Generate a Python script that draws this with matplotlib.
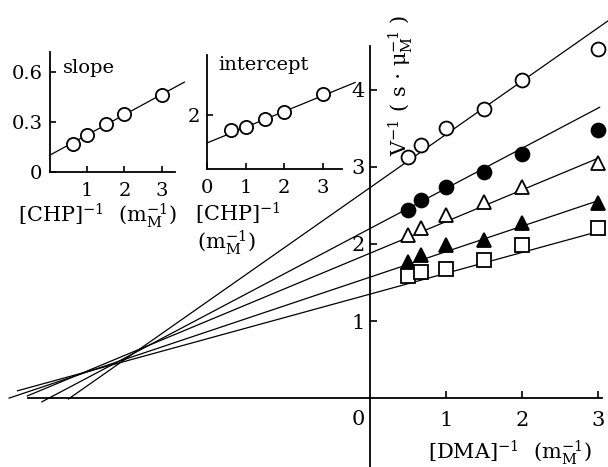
import numpy as np
import matplotlib
matplotlib.use('Agg')
import matplotlib.pyplot as plt

plt.rcParams['font.family'] = ['DejaVu Serif']
plt.rcParams['mathtext.fontset'] = 'dejavuserif'

# Основний графік: [DMA]^-1 проти V^-1 для п'яти концентрацій CHP
dma_inv = [0.5, 0.67, 1.0, 1.5, 2.0, 3.0]
v_open_circle = [3.12, 3.28, 3.50, 3.75, 4.12, 4.53]
v_filled_circle = [2.44, 2.57, 2.74, 2.93, 3.17, 3.48]
v_open_tri = [2.12, 2.20, 2.37, 2.54, 2.74, 3.05]
v_filled_tri = [1.77, 1.86, 1.99, 2.05, 2.27, 2.53]
v_square = [1.59, 1.63, 1.68, 1.79, 1.99, 2.20]

# Прямі (нахил, перетин, межі по x)
line_slope = [0.69, 0.52, 0.41, 0.33, 0.27]
line_icpt = [2.73, 2.20, 1.88, 1.57, 1.35]
line_x0 = [-3.97, -4.32, -4.51, -4.75, -4.64]
line_x1 = [3.15, 3.02, 3.0, 3.0, 2.95]

# Вставки: нахил та перетин проти [CHP]^-1
chp_inv = [0.62, 1.0, 1.5, 2.0, 3.0]
slope_vals = [0.17, 0.22, 0.29, 0.35, 0.46]
icpt_vals = [1.44, 1.56, 1.85, 2.11, 2.78]

series = [v_open_circle, v_filled_circle, v_open_tri, v_filled_tri, v_square]
markers = [('o', 'white', 10), ('o', 'black', 10), ('^', 'white', 9.5),
           ('^', 'black', 9.5), ('s', 'white', 9.5)]

fig = plt.figure(figsize=(6.08, 4.67), dpi=100)
ax = fig.add_axes([0, 0, 1, 1])
ax.set_xlim(-4.87, 3.13)
ax.set_ylim(-0.89, 5.16)

for k in range(5):
    xs = np.array([line_x0[k], line_x1[k]])
    ax.plot(xs, line_icpt[k] + line_slope[k] * xs, color='black', lw=0.9)
for ys, (m, fc, ms) in zip(series, markers):
    ax.plot(dma_inv, ys, linestyle='none', marker=m, ms=ms, mfc=fc,
            mec='black', mew=1.3, zorder=3)

for s in ['top', 'right']:
    ax.spines[s].set_visible(False)
ax.spines['left'].set_position(('data', 0))
ax.spines['bottom'].set_position(('data', 0))
ax.spines['left'].set_bounds(-0.89, 4.57)
ax.spines['bottom'].set_bounds(-4.5, 3.05)
ax.spines['left'].set_linewidth(1.3)
ax.spines['bottom'].set_linewidth(1.3)
ax.set_xticks([1, 2, 3])
ax.set_yticks([1, 2, 3, 4])
ax.tick_params(axis='both', direction='in', length=5, width=1.2, labelsize=15)
ax.tick_params(axis='x', pad=9)
ax.tick_params(axis='y', pad=4)
ax.text(-0.16, -0.27, '0', fontsize=15, ha='center', va='center')
ax.text(1.84, -0.70, r'[DMA]$^{-1}$  $(\mathrm{m_M^{-1}})$', fontsize=15,
        ha='center', va='center')
ax.text(0.40, 4.05, r'V$^{-1}$ ( s $\cdot$ $\mathrm{\mu_M^{-1}}$ )', fontsize=15,
        rotation=90, ha='center', va='center')

# Вставка «slope»
ax1 = fig.add_axes([49.5 / 608, (467 - 172) / 467, 125.5 / 608, 120 / 467])
ax1.patch.set_alpha(0)
ax1.set_xlim(0, 3.35)
ax1.set_ylim(0, 0.72)
xl = np.array([0, 3.6])
ax1.plot(xl, 0.10 + 0.122 * xl, color='black', lw=0.9, clip_on=False)
ax1.plot(chp_inv, slope_vals, linestyle='none', marker='o', ms=9.5, mfc='white',
         mec='black', mew=1.3, clip_on=False, zorder=3)
ax1.set_xticks([1, 2, 3])
ax1.set_yticks([0, 0.3, 0.6])
ax1.set_yticklabels(['0', '0.3', '0.6'])
ax1.text(0.35, 0.625, 'slope', fontsize=14, va='center')
ax1.text(1.27, -0.26, r'[CHP]$^{-1}$  $(\mathrm{m_M^{-1}})$', fontsize=15,
         ha='center', va='center')

# Вставка «intercept»
ax2 = fig.add_axes([207 / 608, (467 - 169) / 467, 135 / 608, 114 / 467])
ax2.patch.set_alpha(0)
ax2.set_xlim(0, 3.5)
ax2.set_ylim(0, 4.2)
xl = np.array([0, 3.84])
ax2.plot(xl, 0.96 + 0.58 * xl, color='black', lw=0.9, clip_on=False)
ax2.plot(chp_inv, icpt_vals, linestyle='none', marker='o', ms=9.5, mfc='white',
         mec='black', mew=1.3, clip_on=False, zorder=3)
ax2.set_xticks([0, 1, 2, 3])
ax2.set_yticks([2])
ax2.text(0.3, 3.85, 'intercept', fontsize=14, va='center')
ax2.text(-0.3, -1.65, r'[CHP]$^{-1}$', fontsize=15, ha='left', va='center')
ax2.text(-0.25, -2.7, r'$(\mathrm{m_M^{-1}})$', fontsize=15, ha='left', va='center')

for a in (ax1, ax2):
    for s in ['top', 'right']:
        a.spines[s].set_visible(False)
    a.spines['left'].set_linewidth(1.3)
    a.spines['bottom'].set_linewidth(1.3)
    a.tick_params(axis='both', direction='in', length=4, width=1.2, labelsize=14)
    a.tick_params(axis='x', pad=7)
    a.tick_params(axis='y', pad=5)

fig.savefig('out.png', dpi=100)
